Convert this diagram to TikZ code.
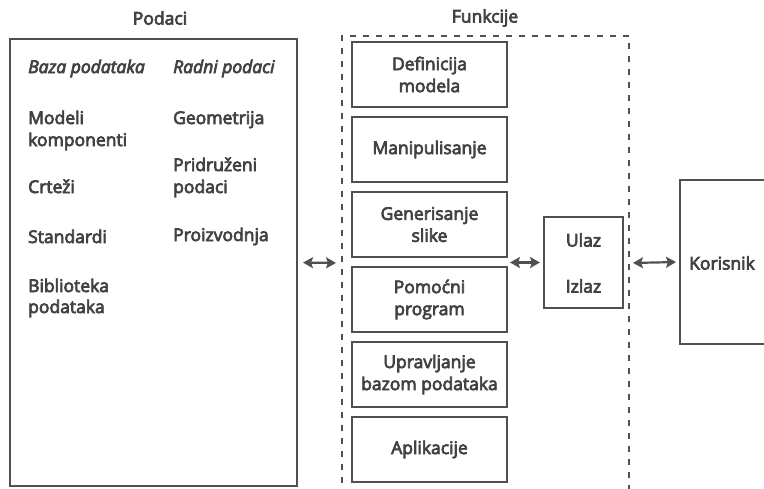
\documentclass[tikz,border=0pt]{standalone}
\usepackage{fontspec}
\setmainfont{Open Sans}[FakeBold=4,UprightFont=*,UprightFeatures={FakeBold=4},ItalicFeatures={FakeBold=4}]
\usetikzlibrary{arrows.meta}
\definecolor{ln}{HTML}{505050}
\definecolor{tx}{HTML}{424242}
\tikzset{
  fs/.style={font=\fontsize{17.5}{22}\selectfont},
  box/.style={draw=ln,line width=2pt,minimum width=155pt,minimum height=65pt,inner sep=0pt,align=center,text=tx,fs},
  lab/.style={anchor=base west,inner sep=0pt,text=tx,fs},
  ttl/.style={text=tx,inner sep=0pt,fs},
  dbl/.style={{Stealth[length=10pt,width=11pt,inset=2pt]}-{Stealth[length=10pt,width=11pt,inset=2pt]},line width=2.2pt,draw=ln},
}
\begin{document}
\begin{tikzpicture}[x=1pt,y=-1pt]
\clip (0,0) rectangle (764,488);
\fill[white] (0,0) rectangle (764,488);
% Podaci
\node[draw=ln,line width=2pt,minimum width=287pt,minimum height=447pt,inner sep=0pt] (pod) at (153.5,262.5) {};
\node[ttl] (podt) at (160,18) {Podaci};
\node[lab] (a1) at (28,73) {\itshape Baza podataka};
\node[lab] (a2) at (28,124) {Modeli};
\node[lab] (a3) at (28,146) {komponenti};
\node[lab] (a4) at (28,193) {Crteži};
\node[lab] (a5) at (28,243) {Standardi};
\node[lab] (a6) at (28,292) {Biblioteka};
\node[lab] (a7) at (28,313) {podataka};
\node[lab] (b1) at (173,73) {\itshape Radni podaci};
\node[lab] (b2) at (173,124) {Geometrija};
\node[lab] (b3) at (173,171) {Pridruženi};
\node[lab] (b4) at (173,193) {podaci};
\node[lab] (b5) at (173,241) {Proizvodnja};
% Funkcije
\node[draw=ln,line width=2pt,dash pattern=on 6pt off 7pt,minimum width=287pt,minimum height=454pt,inner sep=0pt] (fun) at (485.5,263) {};
\node[ttl] (funt) at (485,18) {Funkcije};
\node[box] (f1) at (429.5,74.5) {Definicija\\modela};
\node[box] (f2) at (429.5,149.5) {Manipulisanje};
\node[box] (f3) at (429.5,224.5) {Generisanje\\slike};
\node[box] (f4) at (429.5,299.5) {Pomoćni\\program};
\node[box] (f5) at (429.5,374.5) {Upravljanje\\bazom podataka};
\node[box] (f6) at (429.5,449.5) {Aplikacije};
% Ulaz / Izlaz
\node[draw=ln,line width=2pt,minimum width=79pt,minimum height=91pt,inner sep=0pt] (io) at (583.5,262.5) {};
\node[ttl] (ul) at (583.5,240) {Ulaz};
\node[ttl] (iz) at (583.5,286) {Izlaz};
% Korisnik
\node[draw=ln,line width=2pt,minimum width=120pt,minimum height=164pt,inner sep=0pt] (kor) at (740,262) {};
\node[ttl,anchor=west] (kort) at (689,263) {Korisnik};
% arrows
\draw[dbl,shorten <=5pt,shorten >=5pt] (pod.east) -- (fun.west);
\draw[dbl,shorten <=2pt,shorten >=3pt] (f3.east |- io.west) -- (io.west);
\draw[dbl,shorten <=3pt,shorten >=3pt] (fun.east) -- (kor.west);
\end{tikzpicture}
\end{document}
